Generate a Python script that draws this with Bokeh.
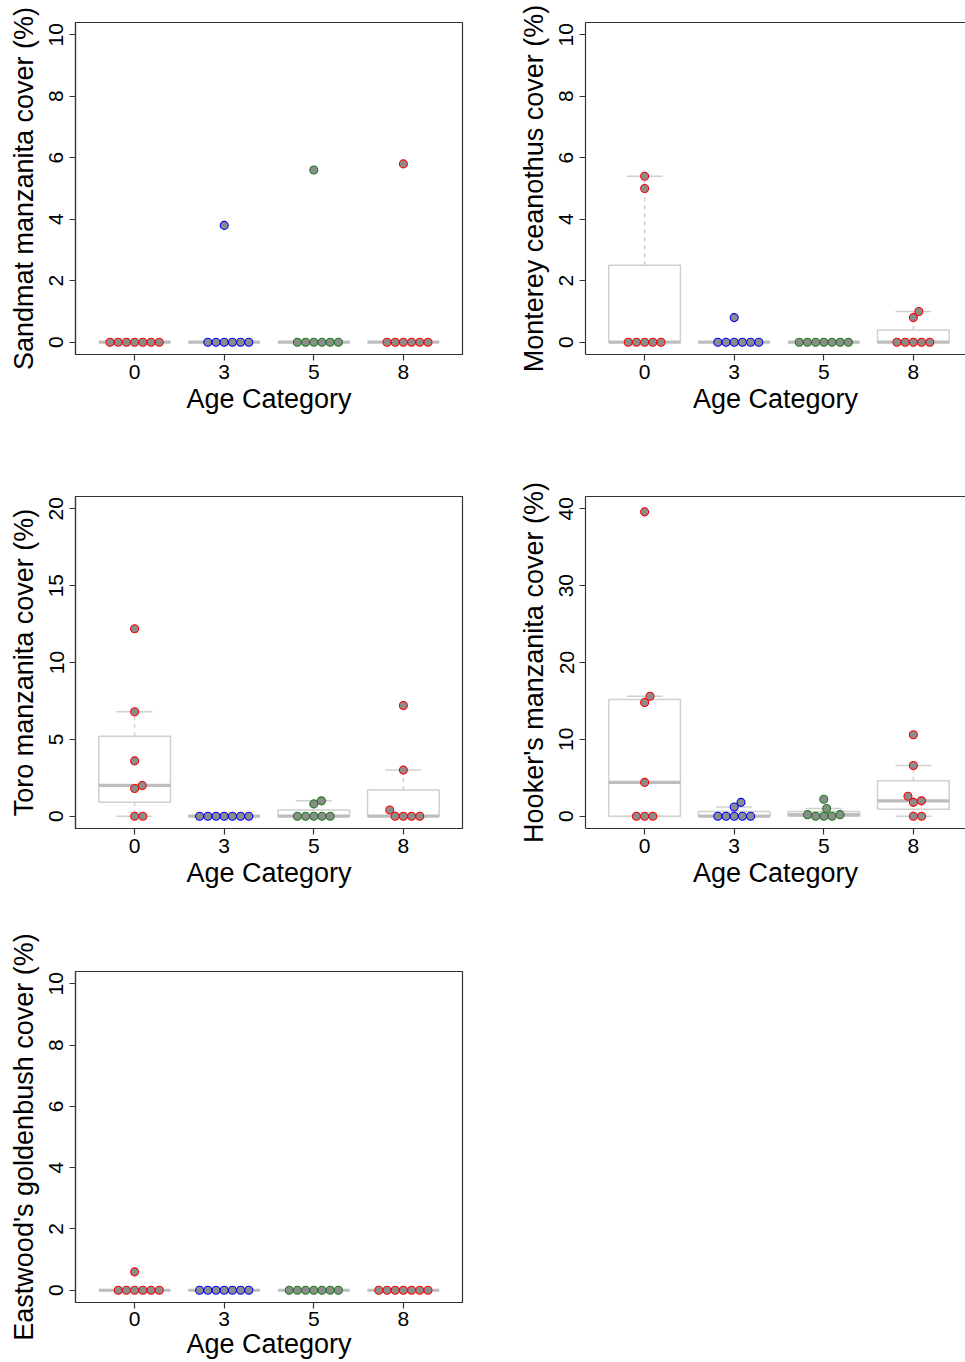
import numpy as np
from bokeh.plotting import figure
from bokeh.layouts import column, row
from bokeh.models import FixedTicker, LinearAxis, Range1d, ColumnDataSource
from bokeh.embed import file_html
from bokeh.resources import INLINE

# ---------------- data ----------------
age_labels = ["0", "3", "5", "8"]
group_colors = ["#FF0000", "#0000FF", "#1E7B1E", "#FF0000"]

# one list of 7 plot values per age category
sandmat = [[0, 0, 0, 0, 0, 0, 0],
           [0, 0, 0, 0, 0, 0, 3.8],
           [0, 0, 0, 0, 0, 0, 5.6],
           [0, 0, 0, 0, 0, 0, 5.8]]
monterey = [[0, 0, 0, 0, 0, 5.0, 5.4],
            [0, 0, 0, 0, 0, 0, 0.8],
            [0, 0, 0, 0, 0, 0, 0],
            [0, 0, 0, 0, 0, 0.8, 1.0]]
toro = [[0, 0, 1.8, 2.0, 3.6, 6.8, 12.2],
        [0, 0, 0, 0, 0, 0, 0],
        [0, 0, 0, 0, 0, 0.8, 1.0],
        [0, 0, 0, 0, 0.4, 3.0, 7.2]]
hooker = [[0, 0, 0, 4.4, 14.8, 15.6, 39.6],
          [0, 0, 0, 0, 0, 1.2, 1.8],
          [0, 0, 0, 0.2, 0.2, 1.0, 2.2],
          [0, 0, 1.8, 2.0, 2.6, 6.6, 10.6]]
eastwood = [[0, 0, 0, 0, 0, 0, 0.6],
            [0, 0, 0, 0, 0, 0, 0],
            [0, 0, 0, 0, 0, 0, 0],
            [0, 0, 0, 0, 0, 0, 0]]

titles = ["Sandmat manzanita cover (%)", "Monterey ceanothus cover (%)",
          "Toro manzanita cover (%)", "Hooker's manzanita cover (%)",
          "Eastwood's goldenbush cover (%)"]
y_max = [10, 10, 20, 40, 10]
y_ticks = [[0, 2, 4, 6, 8, 10], [0, 2, 4, 6, 8, 10], [0, 5, 10, 15, 20],
           [0, 10, 20, 30, 40], [0, 2, 4, 6, 8, 10]]
datasets = [sandmat, monterey, toro, hooker, eastwood]

# ---------------- layout constants ----------------
FONT = "Liberation Sans"
FRAME_H = 332
FRAME_W = 387
LEFT_W = 510
RIGHT_W = 455
BORDER_L = 75
# (border_top, border_bottom) for each row; rows total 1361 px
ROW_BORDERS = [(22, 128), (14, 92), (51, 58)]
X_START, X_SPAN = 0.34, 4.32
PX_PER_X = FRAME_W / X_SPAN
DOT = 8.2
FRAME_COL = "#333333"
BOX_COL = "#d0d0d0"
MED_COL = "#bdbdbd"


def fivenum(x):
    x = sorted(x)
    n = len(x)
    n4 = np.floor((n + 3) / 2) / 2
    d = [1, n4, (n + 1) / 2, n + 1 - n4, n]
    return [0.5 * (x[int(np.floor(di)) - 1] + x[int(np.ceil(di)) - 1]) for di in d]


def box_stats(x):
    f = fivenum(x)
    iqr = f[3] - f[1]
    inside = [v for v in x if f[1] - 1.5 * iqr <= v <= f[3] + 1.5 * iqr]
    return min(inside), f[1], f[2], f[3], max(inside)


def swarm(vals, py):
    order = np.argsort(vals, kind="stable")
    placed = []
    xs = np.zeros(len(vals))
    for i in order:
        y = vals[i] * py
        cands = [0.0]
        for (px, pyy) in placed:
            dy = abs(y - pyy)
            if dy < DOT:
                dx = np.sqrt(DOT * DOT - dy * dy)
                cands += [px + dx, px - dx]
        valid = [c for c in cands
                 if all(np.hypot(c - px, y - pyy) >= DOT - 1e-6 for px, pyy in placed)]
        best = min(valid, key=lambda c: (round(abs(c), 6), -c))
        xs[i] = best
        placed.append((best, y))
    return xs


def make_panel(idx, right_col, row_i, xl_standoff=4, xt_standoff=2):
    data = datasets[idx]
    ymax = y_max[idx]
    b_top, b_bot = ROW_BORDERS[row_i]
    w = RIGHT_W if right_col else LEFT_W
    border_r = 0 if right_col else LEFT_W - BORDER_L - FRAME_W
    frame_w = w - BORDER_L - border_r
    x_end = X_START + frame_w / PX_PER_X
    y0, y1 = -0.04 * ymax, 1.04 * ymax
    p = figure(width=w, height=b_top + FRAME_H + b_bot, output_backend="svg",
               toolbar_location=None,
               x_range=Range1d(X_START, x_end), y_range=Range1d(y0, y1),
               min_border_left=BORDER_L, min_border_top=b_top,
               min_border_right=border_r, min_border_bottom=b_bot,
               background_fill_color="white", border_fill_color="white")
    p.grid.visible = False

    py = FRAME_H / (y1 - y0)
    positions = [1, 2, 3, 4]
    for g, vals in enumerate(data):
        pos = positions[g]
        wlo, lo, med, hi, whi = box_stats(vals)
        p.quad(left=[pos - 0.4], right=[pos + 0.4], bottom=[lo], top=[hi],
               fill_alpha=0, line_color=BOX_COL, line_width=1.5)
        p.segment(x0=[pos, pos], y0=[hi, lo], x1=[pos, pos], y1=[whi, wlo],
                  line_color=BOX_COL, line_width=1.5, line_dash="4 4")
        p.segment(x0=[pos - 0.2, pos - 0.2], y0=[whi, wlo], x1=[pos + 0.2, pos + 0.2],
                  y1=[whi, wlo], line_color=BOX_COL, line_width=1.5)
        p.segment(x0=[pos - 0.4], y0=[med], x1=[pos + 0.4], y1=[med],
                  line_color=MED_COL, line_width=3.2)
        offs = swarm(np.array(vals, dtype=float), py) / PX_PER_X
        src = ColumnDataSource(dict(x=pos + offs, y=vals))
        p.scatter("x", "y", source=src, size=8, fill_color="#8c8c8c",
                  line_color=group_colors[g], line_width=1.1)

    xa = p.below[0]
    xa.ticker = FixedTicker(ticks=positions)
    xa.major_label_overrides = {pos: lab for pos, lab in zip(positions, age_labels)}
    xa.axis_label = "Age Category"
    ya = p.left[0]
    ya.ticker = FixedTicker(ticks=y_ticks[idx])
    ya.axis_label = titles[idx]
    ya.major_label_orientation = "vertical"
    for ax in (xa, ya):
        ax.axis_line_color = FRAME_COL
        ax.axis_line_width = 1.2
        ax.major_tick_line_color = FRAME_COL
        ax.major_tick_line_width = 1.2
        ax.major_tick_out = 6
        ax.major_tick_in = 0
        ax.minor_tick_line_color = None
        ax.major_label_text_font = FONT
        ax.major_label_text_font_size = "21px"
        ax.major_label_text_color = "black"
        ax.axis_label_text_font = FONT
        ax.axis_label_text_font_size = "27px"
        ax.axis_label_text_font_style = "normal"
        ax.axis_label_text_color = "black"
    xa.major_label_standoff = xl_standoff
    xa.axis_label_standoff = xt_standoff
    ya.major_label_standoff = 6
    ya.axis_label_standoff = 8

    if right_col:
        # the reference's frame runs past the window's right edge: no right border
        p.outline_line_color = None
        top = LinearAxis(ticker=FixedTicker(ticks=[]), major_label_text_font_size="0px",
                         major_tick_out=0, major_tick_in=0, minor_tick_out=0, minor_tick_in=0,
                         major_label_standoff=0, axis_label_standoff=0,
                         axis_line_color=FRAME_COL, axis_line_width=1.2,
                         minor_tick_line_color=None, major_tick_line_color=None)
        p.add_layout(top, "above")
    else:
        p.outline_line_color = FRAME_COL
        p.outline_line_width = 1.2
    return p


p1 = make_panel(0, False, 0)
p2 = make_panel(1, True, 0)
p3 = make_panel(2, False, 1)
p4 = make_panel(3, True, 1)
p5 = make_panel(4, False, 2, xl_standoff=3, xt_standoff=0)

layout = column(row(p1, p2), row(p3, p4), row(p5))
open("out.html", "w").write(file_html(layout, INLINE))
